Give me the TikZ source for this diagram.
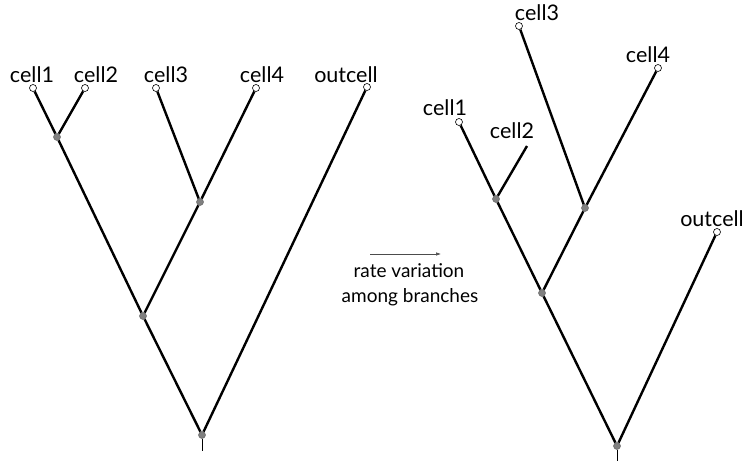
\documentclass[tikz,border=0pt]{standalone}
\usepackage{fontspec}
\setmainfont{Lato}
\usetikzlibrary{arrows.meta}

\begin{document}
\begin{tikzpicture}[x=1pt,y=-1pt,
			tip/.style={circle, draw, fill=white, line width=0.6pt, inner sep=0pt, minimum size=7pt},
			inner/.style={circle, draw=gray!80!black, fill=gray, line width=0.5pt, inner sep=0pt, minimum size=7pt},
			branch/.style={line width=2.4pt},
			lbl/.style={font=\fontsize{21.5}{24}\selectfont, anchor=base, inner sep=0pt}
		]
		\useasboundingbox (0,0) rectangle (750,461);

		% left tree
		\node[inner] (lroot) at (202,435) {};
		\coordinate (lstub) at (202,451);
		\node[inner] (lmid) at (143,316) {};
		\node[inner] (l12) at (57,137) {};
		\node[inner] (l34) at (200,202) {};
		\node[tip] (lc1) at (33,88) {};
		\node[tip] (lc2) at (85,88) {};
		\node[tip] (lc3) at (156,88) {};
		\node[tip] (lc4) at (256,88) {};
		\node[tip] (lout) at (367,87) {};

		\node[lbl] at (32,82) {cell1};
		\node[lbl] at (96,82) {cell2};
		\node[lbl] at (166,82) {cell3};
		\node[lbl] at (262,82) {cell4};
		\node[lbl] at (346,82) {outcell};

		\draw[line width=1pt] (lroot) -- (lstub);
		\draw[branch] (lroot) -- (lmid);
		\draw[branch] (lroot) -- (lout);
		\draw[branch] (lmid) -- (l12);
		\draw[branch] (lmid) -- (l34);
		\draw[branch] (l12) -- (lc1);
		\draw[branch] (l12) -- (lc2);
		\draw[branch] (l34) -- (lc3);
		\draw[branch] (l34) -- (lc4);

		% arrow
		\coordinate (astart) at (370,254);
		\coordinate (aend) at (441,254);
		\draw[-{Latex[length=5pt,width=3.5pt]}, line width=0.6pt, color=gray!60!black] (astart) -- (aend);
		\node[font=\fontsize{19}{25}\selectfont, anchor=base] (rate) at (409,277) {rate variation};
		\node[font=\fontsize{19}{25}\selectfont, anchor=base] (among) at (410,302) {among branches};

		% right tree
		\node[inner] (rroot) at (617,446) {};
		\coordinate (rstub) at (617,461);
		\node[inner] (rmid) at (542,293) {};
		\node[inner] (r12) at (496,199) {};
		\node[inner] (r34) at (585,208) {};
		\node[tip] (rc1) at (459,122) {};
		\coordinate (rc2) at (527,146);
		\node[tip] (rc3) at (519,26) {};
		\node[tip] (rc4) at (658,68) {};
		\node[tip] (rout) at (717,232) {};

		\node[lbl] at (445,115) {cell1};
		\node[lbl] at (512,138) {cell2};
		\node[lbl] at (537,20) {cell3};
		\node[lbl] at (648,62) {cell4};
		\node[lbl] at (712,226) {outcell};

		\draw[line width=1pt] (rroot) -- (rstub);
		\draw[branch] (rroot) -- (rmid);
		\draw[branch] (rroot) -- (rout);
		\draw[branch] (rmid) -- (r12);
		\draw[branch] (rmid) -- (r34);
		\draw[branch] (r12) -- (rc1);
		\draw[branch] (r12) -- (rc2);
		\draw[branch] (r34) -- (rc3);
		\draw[branch] (r34) -- (rc4);

	\end{tikzpicture}
\end{document}
